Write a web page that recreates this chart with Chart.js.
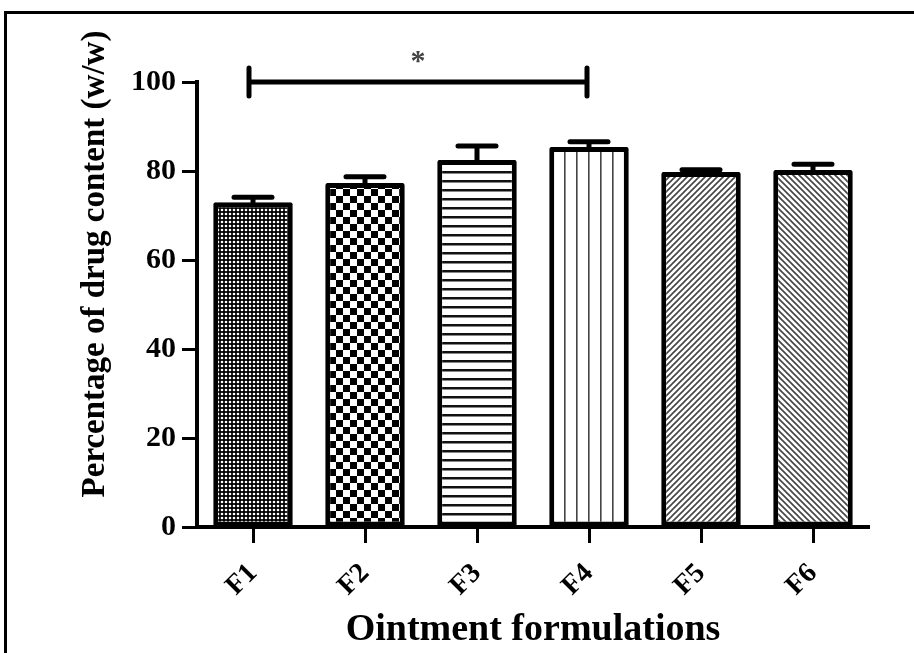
<!DOCTYPE html>
<html>
<head>
<meta charset="utf-8">
<script src="https://cdn.jsdelivr.net/npm/chart.js@4"></script>
<style>
  html, body { margin: 0; padding: 0; background: #fff; }
  #wrap { position: relative; width: 914px; height: 653px; overflow: hidden; }
  #frame {
    position: absolute; left: 4px; top: 11px; right: -10px; bottom: -10px;
    border-top: 3px solid #000; border-left: 3px solid #000; pointer-events: none;
  }
</style>
</head>
<body>
<div id="wrap">
  <canvas id="myChart" width="914" height="653"></canvas>
  <div id="frame"></div>
</div>
<script>
const ctx = document.getElementById("myChart");

// data
const formulations = ["F1", "F2", "F3", "F4", "F5", "F6"];
const drugContent = [73.0, 77.3, 82.5, 85.4, 79.8, 80.2];
const drugContentSD = [1.1, 1.4, 3.1, 1.2, 0.5, 1.3];
const yTickValues = [0, 20, 40, 60, 80, 100];
const sigPair = [0, 3];
const sigMark = "*";
const yTitle = "Percentage of drug content (w/w)";
const xTitle = "Ointment formulations";

const serif = "'Liberation Serif', 'Times New Roman', serif";

// fill patterns for each bar
function makePattern(size, draw) {
  const c = document.createElement("canvas");
  c.width = size[0];
  c.height = size[1];
  const g = c.getContext("2d");
  g.fillStyle = "#fff";
  g.fillRect(0, 0, c.width, c.height);
  draw(g, c.width, c.height);
  return ctx.getContext("2d").createPattern(c, "repeat");
}

const patterns = [
  makePattern([4, 4], (g) => {
    g.fillStyle = "#000";
    g.fillRect(0, 0, 4, 4);
    g.fillStyle = "#fff";
    g.beginPath();
    g.arc(2, 2, 1.3, 0, Math.PI * 2);
    g.fill();
  }),
  makePattern([14, 14], (g) => {
    g.fillStyle = "#000";
    g.fillRect(0, 0, 7, 7);
    g.fillRect(7, 7, 7, 7);
  }),
  makePattern([9, 9], (g) => {
    g.fillStyle = "#111";
    g.fillRect(0, 0, 9, 2.5);
  }),
  makePattern([12, 12], (g) => {
    g.fillStyle = "#444";
    g.fillRect(0, 0, 1.6, 12);
  }),
  makePattern([6, 6], (g, w, h) => {
    g.strokeStyle = "#444";
    g.lineWidth = 1.6;
    g.beginPath();
    g.moveTo(-1, 1); g.lineTo(1, -1);
    g.moveTo(0, h); g.lineTo(w, 0);
    g.moveTo(w - 1, h + 1); g.lineTo(w + 1, h - 1);
    g.stroke();
  }),
  makePattern([6, 6], (g, w, h) => {
    g.strokeStyle = "#444";
    g.lineWidth = 1.6;
    g.beginPath();
    g.moveTo(-1, h - 1); g.lineTo(1, h + 1);
    g.moveTo(0, 0); g.lineTo(w, h);
    g.moveTo(w - 1, -1); g.lineTo(w + 1, 1);
    g.stroke();
  }),
];

// upper error bars (mean + SD)
const errorBars = {
  id: "errorBars",
  afterDatasetsDraw(chart) {
    const c = chart.ctx;
    const y = chart.scales.y;
    const meta = chart.getDatasetMeta(0);
    c.save();
    c.strokeStyle = "#000";
    c.lineWidth = 5;
    c.lineCap = "round";
    meta.data.forEach((bar, i) => {
      const yBar = y.getPixelForValue(drugContent[i]);
      const yTop = y.getPixelForValue(drugContent[i] + drugContentSD[i]);
      c.beginPath();
      c.moveTo(bar.x, yBar);
      c.lineTo(bar.x, yTop);
      c.moveTo(bar.x - 19, yTop);
      c.lineTo(bar.x + 19, yTop);
      c.stroke();
    });
    c.restore();
  },
};

// significance bracket and the y axis title
const annotations = {
  id: "annotations",
  afterDraw(chart) {
    const c = chart.ctx;
    const x = chart.scales.x;
    const y = chart.scales.y;
    const x1 = x.getPixelForValue(sigPair[0]) - 4;
    const x2 = x.getPixelForValue(sigPair[1]) - 2;
    const yy = y.getPixelForValue(100);
    c.save();
    c.strokeStyle = "#000";
    c.lineWidth = 5;
    c.lineCap = "round";
    c.beginPath();
    c.moveTo(x1, yy);
    c.lineTo(x2, yy);
    c.moveTo(x1, yy - 14);
    c.lineTo(x1, yy + 14);
    c.moveTo(x2, yy - 14);
    c.lineTo(x2, yy + 14);
    c.stroke();

    c.fillStyle = "#444";
    c.font = "bold 30px " + serif;
    c.textAlign = "center";
    c.textBaseline = "middle";
    c.fillText(sigMark, (x1 + x2) / 2, yy - 20);

    c.translate(95, 264);
    c.rotate(-Math.PI / 2);
    c.fillStyle = "#000";
    c.font = "bold 33px " + serif;
    c.fillText(yTitle, 0, 0);
    c.restore();
  },
};

new Chart(ctx, {
  type: "bar",
  data: {
    labels: formulations,
    datasets: [
      {
        data: drugContent,
        backgroundColor: patterns,
        borderColor: "#000",
        borderWidth: 5,
        borderSkipped: false,
        borderRadius: 2,
        barPercentage: 0.71,
        categoryPercentage: 1.0,
      },
    ],
  },
  options: {
    responsive: false,
    animation: false,
    layout: { padding: { top: 82, right: 45, left: 0, bottom: 0 } },
    plugins: {
      legend: { display: false },
      tooltip: { enabled: false },
    },
    scales: {
      x: {
        afterFit: (scale) => { scale.height = 126; },
        grid: {
          offset: false,
          drawOnChartArea: false,
          tickLength: 16,
          tickWidth: 3,
          tickColor: "#000",
        },
        border: { display: true, color: "#000", width: 4 },
        ticks: {
          color: "#000",
          font: { family: serif, size: 28, weight: "bold" },
          minRotation: 45,
          maxRotation: 45,
          padding: 14,
        },
        title: {
          display: true,
          text: xTitle,
          color: "#000",
          font: { family: serif, size: 38, weight: "bold" },
          padding: { top: 0, bottom: 0 },
        },
      },
      y: {
        min: 0,
        max: 100,
        afterFit: (scale) => { scale.width = 197; },
        afterBuildTicks: (scale) => {
          scale.ticks = yTickValues.map((v) => ({ value: v }));
        },
        grid: {
          drawOnChartArea: false,
          tickLength: 15,
          tickWidth: 3,
          tickColor: "#000",
        },
        border: { display: true, color: "#000", width: 4 },
        ticks: {
          color: "#000",
          font: { family: serif, size: 30, weight: "bold" },
          padding: 6,
        },
      },
    },
  },
  plugins: [errorBars, annotations],
});
</script>
</body>
</html>
